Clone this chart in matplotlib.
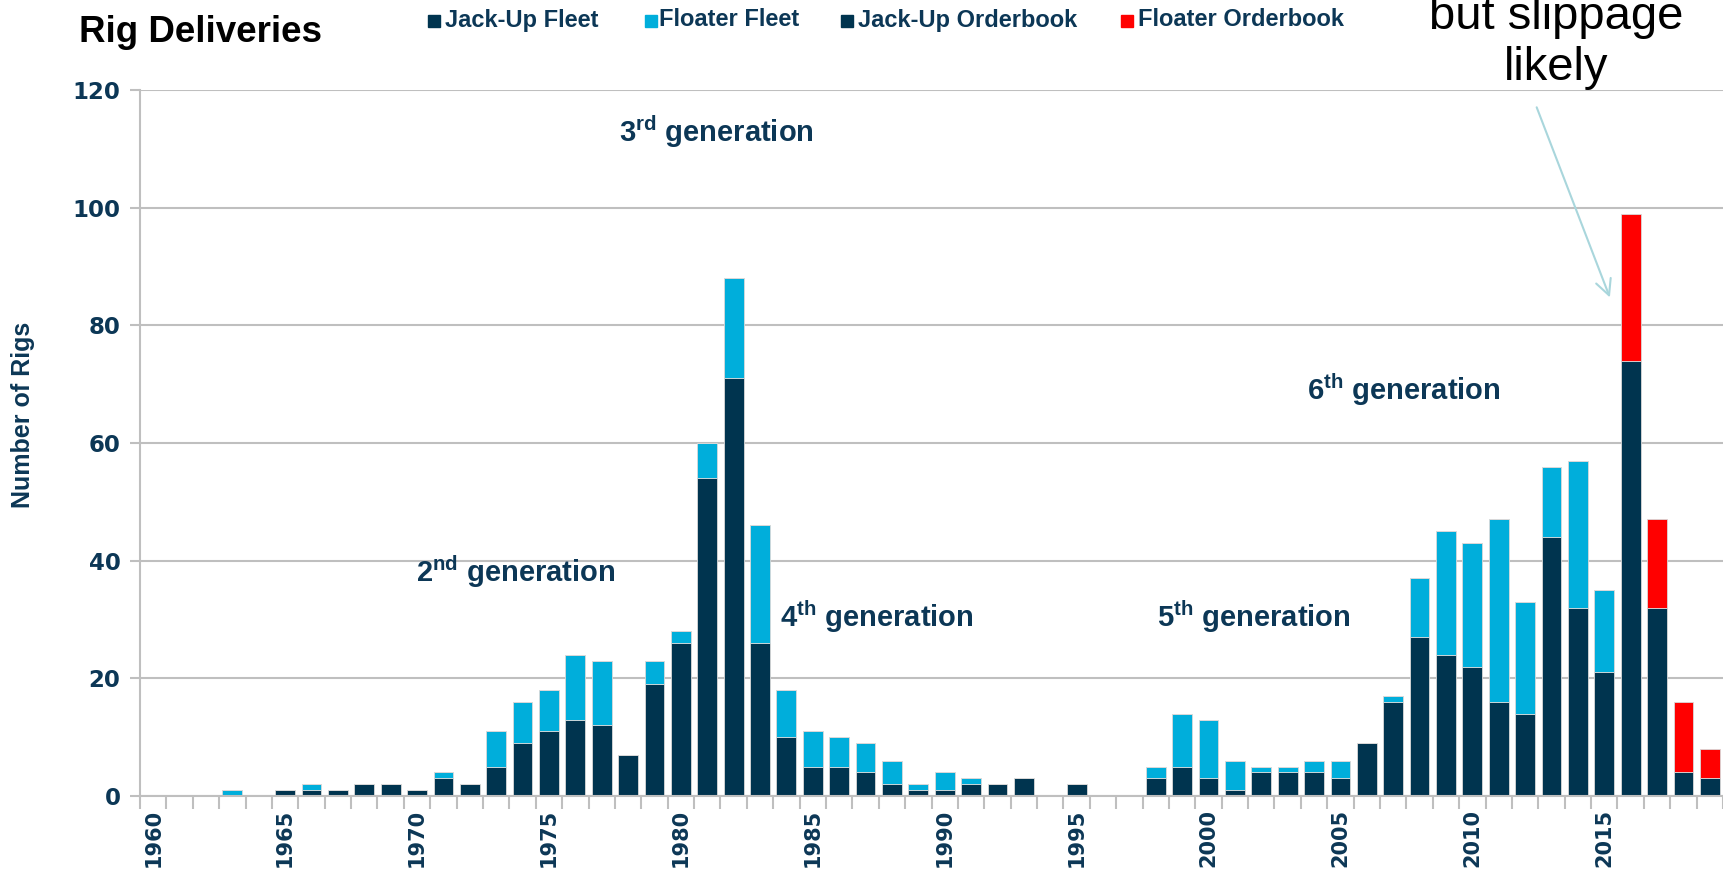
import numpy as np
import matplotlib.pyplot as plt
from matplotlib.lines import Line2D

plt.rcParams['mathtext.fontset'] = 'custom'
plt.rcParams['mathtext.bf'] = 'Liberation Sans:bold'
plt.rcParams['mathtext.rm'] = 'Liberation Sans:bold'

# data
years = list(range(1960, 2020))
jackup_fleet = [0, 0, 0, 0, 0, 1, 1, 1, 2, 2,
                1, 3, 2, 5, 9, 11, 13, 12, 7, 19,
                26, 54, 71, 26, 10, 5, 5, 4, 2, 1,
                1, 2, 2, 3, 0, 2, 0, 0, 3, 5,
                3, 1, 4, 4, 4, 3, 9, 16, 27, 24,
                22, 16, 14, 44, 32, 21, 0, 0, 0, 0]
floater_fleet = [0, 0, 0, 1, 0, 0, 1, 0, 0, 0,
                 0, 1, 0, 6, 7, 7, 11, 11, 0, 4,
                 2, 6, 17, 20, 8, 6, 5, 5, 4, 1,
                 3, 1, 0, 0, 0, 0, 0, 0, 2, 9,
                 10, 5, 1, 1, 2, 3, 0, 1, 10, 21,
                 21, 31, 19, 12, 25, 14, 0, 0, 0, 0]
jackup_orderbook = [0] * 56 + [74, 32, 4, 3]
floater_orderbook = [0] * 56 + [25, 15, 12, 5]

series_names = ['Jack-Up Fleet', 'Floater Fleet', 'Jack-Up Orderbook', 'Floater Orderbook']

generations = ['2', '3', '4', '5', '6']
gen_suffix = ['nd', 'rd', 'th', 'th', 'th']
gen_x = [9.97, 17.66, 23.77, 38.05, 43.74]
gen_y = [36.4, 111.2, 28.7, 28.7, 67.3]

navy = '#00344f'
cyan = '#00aedb'
red = '#ff0000'
txt = '#0c3756'
grey = '#bfbfbf'
colors = [navy, cyan, navy, red]

x = np.arange(len(years))
jf = np.array(jackup_fleet)
ff = np.array(floater_fleet)
jo = np.array(jackup_orderbook)
fo = np.array(floater_orderbook)

W, H = 1723, 871
fig = plt.figure(figsize=(W / 100, H / 100), dpi=100)
ax = fig.add_axes([140/W, 75/H, 1 - 140/W, 706/H])

w = 0.75
ek = dict(edgecolor='#d9d9d9', linewidth=0.6)
ax.bar(x, jf, w, color=navy, **ek)
ax.bar(x, ff, w, bottom=jf, color=cyan, **ek)
ax.bar(x, jo, w, bottom=jf + ff, color=navy, **ek)
ax.bar(x, fo, w, bottom=jf + ff + jo, color=red, **ek)

ax.set_xlim(-0.5, 59.15)
ax.set_ylim(0, 120)
ax.set_yticks(range(0, 121, 20))
ax.yaxis.grid(True, color=grey, lw=1.5)
ax.set_axisbelow(True)

ax.set_xticks(x[::5])
ax.set_xticklabels([str(y) for y in years[::5]], rotation=90)
ax.set_xticks(np.arange(-0.5, 60, 1), minor=True)
ax.tick_params(axis='x', which='major', length=0, pad=9)
ax.tick_params(axis='x', which='minor', length=9, width=1.5, color=grey)
ax.tick_params(axis='y', length=7, width=1.5, color=grey, pad=7)
for lab in ax.get_xticklabels():
    lab.set_fontfamily('DejaVu Sans')
    lab.set_fontweight('bold')
    lab.set_fontsize(15)
    lab.set_color(txt)
for lab in ax.get_yticklabels():
    lab.set_fontfamily('DejaVu Sans')
    lab.set_fontweight('bold')
    lab.set_fontsize(16.5)
    lab.set_color(txt)

for s in ['top', 'right']:
    ax.spines[s].set_visible(False)
for s in ['left', 'bottom']:
    ax.spines[s].set_color(grey)
    ax.spines[s].set_linewidth(1.5)

ax.set_ylabel('Number of Rigs', fontsize=18, fontweight='bold', color=txt,
              family='Liberation Sans')
ax.yaxis.set_label_coords(-0.0663, 0.54)

for g, suf, gx, gy in zip(generations, gen_suffix, gen_x, gen_y):
    ax.text(gx, gy, g + r'$^{\mathbf{' + suf + '}}$ generation', fontsize=21,
            fontweight='bold', color=txt, family='Liberation Sans',
            ha='left', va='baseline')

fig.text(79/W, 1 - 33/H, 'Rig Deliveries', fontsize=26.5, fontweight='bold',
         family='Liberation Sans', ha='left', va='center')

# legend laid out by hand to match the original spacing
sq_x = [434, 651, 847, 1127]
lab_x = [445, 659, 858, 1138]
for name, c, sx, lx in zip(series_names, colors, sq_x, lab_x):
    fig.add_artist(Line2D([sx / W], [1 - 21/H], marker='s', ls='', color=c,
                          markersize=8, transform=fig.transFigure))
    fig.text(lx / W, 1 - 20/H, name, fontsize=17, fontweight='bold', color=txt,
             family='Liberation Sans', ha='left', va='center')

fig.text(1556/W, 1 - 80/H, 'but slippage\nlikely', fontsize=34,
         family='Liberation Sans', ha='center', va='baseline', linespacing=1.22)
ax.annotate('', xy=(55.25, 84.3), xytext=(52.4, 117.5), annotation_clip=False,
            arrowprops=dict(arrowstyle='->', color='#a9d6dc', lw=1.5,
                            mutation_scale=28))

fig.savefig('out.png', dpi=100)
